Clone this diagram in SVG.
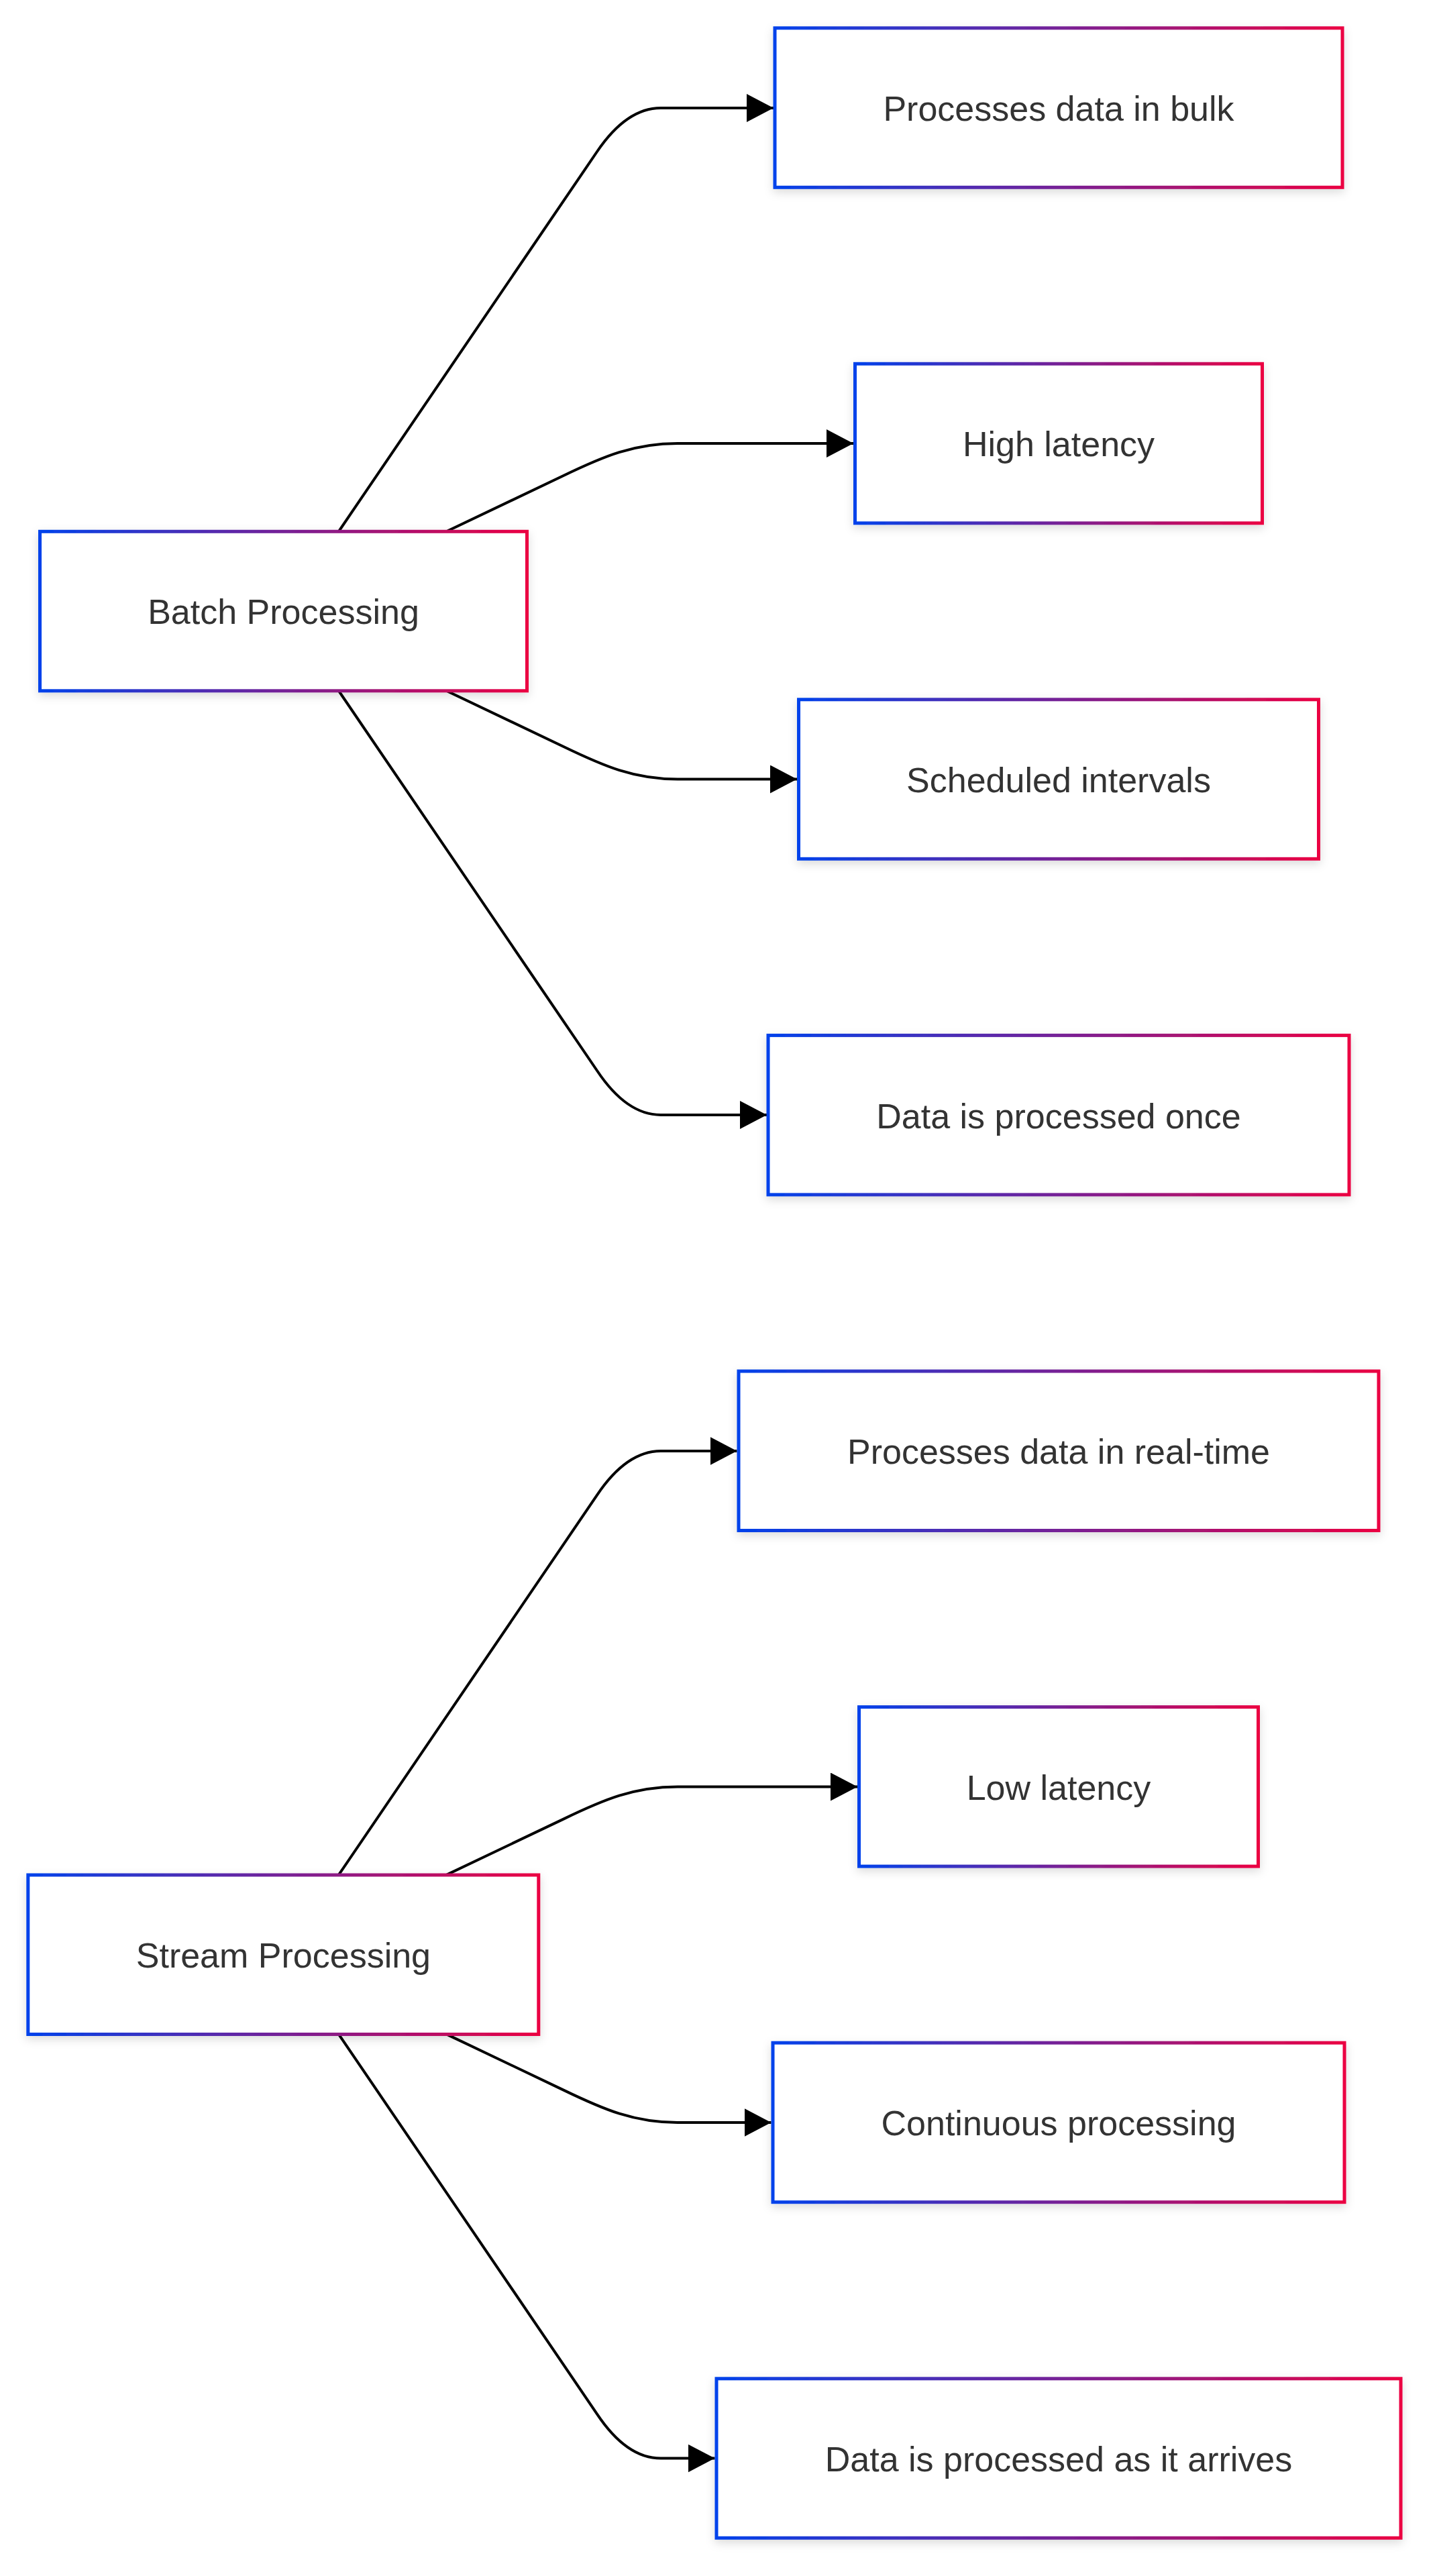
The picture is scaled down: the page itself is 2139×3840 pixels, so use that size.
<svg xmlns="http://www.w3.org/2000/svg" width="2139" height="3840" viewBox="0 0 2139 3840">
<style>
.node rect { fill: #ffffff; stroke: url(#grad); stroke-width: 5; filter: url(#shadow); }
.node text { font-family: "Liberation Sans", Arial, sans-serif; font-size: 52px; fill: #333333; text-anchor: middle; }
.edge { fill: none; stroke: #000000; stroke-width: 4; marker-end: url(#arrow); }
</style>
<defs>
<linearGradient id="grad" x1="0" y1="0" x2="1" y2="0">
<stop offset="0" stop-color="#0042eb"/>
<stop offset="1" stop-color="#eb0042"/>
</linearGradient>
<filter id="shadow" x="-10%" y="-20%" width="120%" height="150%">
<feDropShadow dx="0" dy="5" stdDeviation="7" flood-color="#000000" flood-opacity="0.14"/>
</filter>
<marker id="arrow" markerUnits="userSpaceOnUse" viewBox="0 0 40 42" markerWidth="40" markerHeight="42" refX="40" refY="21" orient="auto">
<path d="M0 0 L40 21 L0 42 z" fill="#000000"/>
</marker>
</defs>
<rect width="2139" height="3840" fill="#ffffff"/>
<g id="connectors">
<path class="edge" d="M505 792 L890 226 Q934 161 985 161 L1153 161"/>
<path class="edge" d="M666 792 L840 709 C900 680 945 661 1010 661 L1272 661"/>
<path class="edge" d="M666 1030 L840 1113 C900 1142 945 1161.5 1010 1161.5 L1188 1161.5"/>
<path class="edge" d="M505 1030 L890 1596 Q934 1662 985 1662 L1143 1662"/>
<path class="edge" d="M505 2794.6 L890 2228.6 Q934 2163 985 2163 L1098.5 2163"/>
<path class="edge" d="M666 2794.6 L840 2711.6 C900 2682.6 945 2663.5 1010 2663.5 L1278 2663.5"/>
<path class="edge" d="M666 3032.6 L840 3115.6 C900 3144.6 945 3164 1010 3164 L1149.5 3164"/>
<path class="edge" d="M505 3032.6 L890 3598.6 Q934 3664.6 985 3664.6 L1065.5 3664.6"/>
</g>
<g id="batch" class="node">
<rect x="59.5" y="792.3" width="726" height="237.5"/>
<text x="422.5" y="930">Batch Processing</text>
</g>
<g id="bulk" class="node">
<rect x="1155" y="41.8" width="846" height="237.5"/>
<text x="1578" y="180">Processes data in bulk</text>
</g>
<g id="highlat" class="node">
<rect x="1274.5" y="542.3" width="607" height="237.5"/>
<text x="1578" y="680">High latency</text>
</g>
<g id="sched" class="node">
<rect x="1190.5" y="1042.8" width="775" height="237.5"/>
<text x="1578" y="1181">Scheduled intervals</text>
</g>
<g id="once" class="node">
<rect x="1145" y="1543.4" width="866" height="237.5"/>
<text x="1578" y="1681.5">Data is processed once</text>
</g>
<g id="stream" class="node">
<rect x="41.8" y="2795" width="761" height="237.5"/>
<text x="422.4" y="2932.5">Stream Processing</text>
</g>
<g id="realtime" class="node">
<rect x="1101" y="2044" width="954" height="237.5"/>
<text x="1578" y="2182">Processes data in real-time</text>
</g>
<g id="lowlat" class="node">
<rect x="1280.5" y="2544.6" width="595" height="237.5"/>
<text x="1578" y="2682.5">Low latency</text>
</g>
<g id="cont" class="node">
<rect x="1152" y="3045.2" width="852" height="237.5"/>
<text x="1578" y="3183">Continuous processing</text>
</g>
<g id="arrives" class="node">
<rect x="1068" y="3545.8" width="1020" height="237.5"/>
<text x="1578" y="3683.5">Data is processed as it arrives</text>
</g>
</svg>
